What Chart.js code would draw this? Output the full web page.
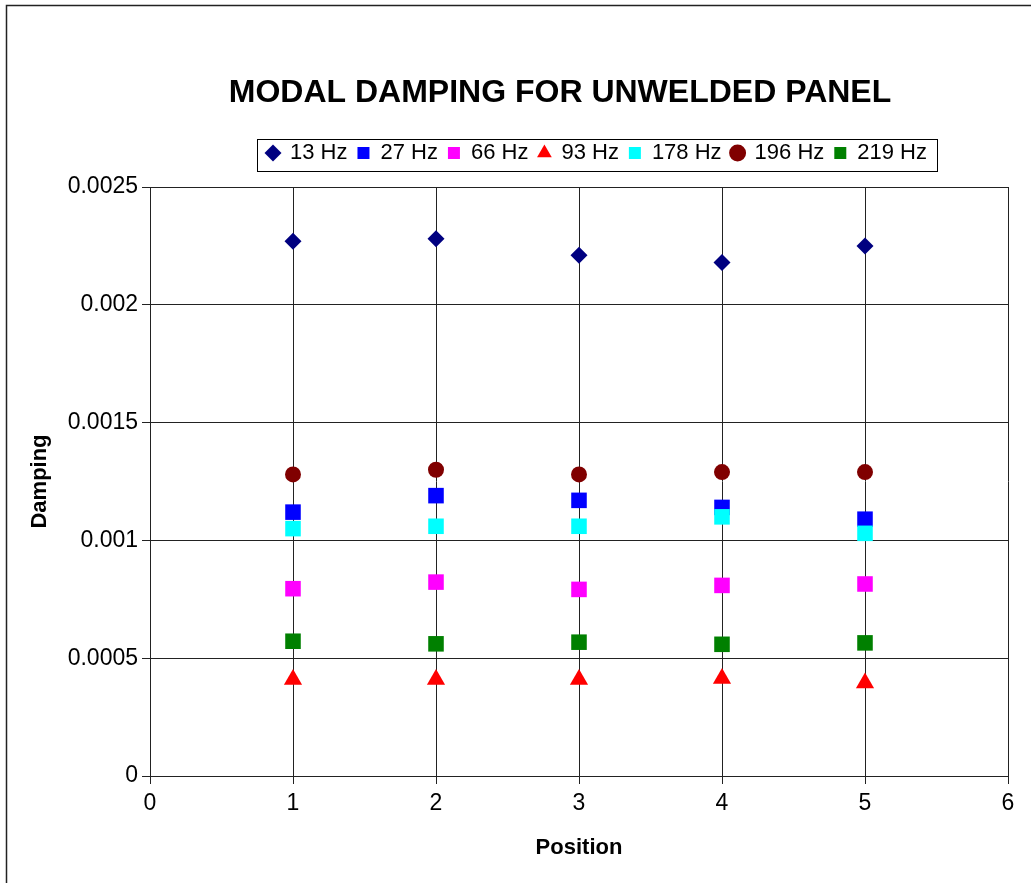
<!DOCTYPE html>
<html>
<head>
<meta charset="utf-8">
<script src="https://cdn.jsdelivr.net/npm/chart.js@4/dist/chart.umd.min.js"></script>
<style>
  html, body { margin: 0; padding: 0; background: #fff; }
  #wrap { width: 1031px; height: 883px; position: relative; }
</style>
</head>
<body>
<div id="wrap"><canvas id="c" width="1031" height="883"></canvas></div>
<script>
const positions = [1, 2, 3, 4, 5];
const seriesNames = ['13 Hz', '27 Hz', '66 Hz', '93 Hz', '178 Hz', '196 Hz', '219 Hz'];
const hz13  = [0.00227, 0.00228, 0.00221, 0.00218, 0.00225];
const hz27  = [0.00112, 0.00119, 0.00117, 0.00114, 0.00109];
const hz66  = [0.000795, 0.000823, 0.000792, 0.000809, 0.000815];
const hz93  = [0.00041, 0.00041, 0.00041, 0.000414, 0.000395];
const hz178 = [0.00105, 0.00106, 0.00106, 0.00110, 0.00103];
const hz196 = [0.00128, 0.00130, 0.00128, 0.00129, 0.00129];
const hz219 = [0.000572, 0.000561, 0.000568, 0.000559, 0.000565];
const xTickLabels = ['0', '1', '2', '3', '4', '5', '6'];
const yTickLabels = ['0', '0.0005', '0.001', '0.0015', '0.002', '0.0025'];

const FONT = "'Liberation Sans', Arial, sans-serif";
const seriesValues = [hz13, hz27, hz66, hz93, hz178, hz196, hz219];
const styles = [
  { color: '#000080', pointStyle: 'rectRot', radius: 8.5 },
  { color: '#0000FF', pointStyle: 'rect', radius: 11 },
  { color: '#FF00FF', pointStyle: 'rect', radius: 11 },
  { color: '#FF0000', pointStyle: 'triangle', radius: 10.5 },
  { color: '#00FFFF', pointStyle: 'rect', radius: 11 },
  { color: '#800000', pointStyle: 'circle', radius: 8 },
  { color: '#008000', pointStyle: 'rect', radius: 11 }
];

const datasets = seriesNames.map((name, i) => ({
  label: name,
  data: positions.map((p, j) => ({ x: p, y: seriesValues[i][j] })),
  backgroundColor: styles[i].color,
  borderColor: styles[i].color,
  borderWidth: 0,
  pointStyle: styles[i].pointStyle,
  pointRadius: styles[i].radius,
  pointHoverRadius: styles[i].radius,
  pointBorderWidth: 0,
  showLine: false,
  order: seriesNames.length - i
}));

const LEGEND_PAD = 10;

const framePlugin = {
  id: 'frame',
  beforeDraw(chart) {
    const ctx = chart.ctx;
    ctx.save();
    ctx.fillStyle = '#fff';
    ctx.fillRect(0, 0, chart.width, chart.height);
    ctx.restore();
  },
  afterLayout(chart) {
    const lg = chart.legend;
    if (lg) { lg.left += 18; lg.right += 18; }
    const tb = chart.titleBlock;
    if (tb) { tb.left += 51; tb.right += 51; }
  },
  afterDraw(chart) {
    const ctx = chart.ctx;
    ctx.save();
    // outer frame
    ctx.strokeStyle = '#222';
    ctx.lineWidth = 1.5;
    ctx.beginPath();
    ctx.moveTo(6.5, chart.height);
    ctx.lineTo(6.5, 5.5);
    ctx.lineTo(chart.width, 5.5);
    ctx.stroke();
    // legend box
    const lg = chart.legend;
    if (lg && lg.lineWidths) {
      const lw = lg.lineWidths[0];
      const x0 = (lg.left + LEGEND_PAD + lg.right - lw) / 2;
      const x1 = x0 + lw - LEGEND_PAD;
      ctx.strokeStyle = '#000';
      ctx.lineWidth = 1;
      ctx.strokeRect(Math.round(x0 - 10) + 0.5, Math.round(lg.top + 7) + 0.5,
                     Math.round(x1 - x0 + 20), 32);
    }
    ctx.restore();
  }
};

new Chart(document.getElementById('c'), {
  type: 'scatter',
  data: { datasets },
  plugins: [framePlugin],
  options: {
    responsive: false,
    animation: false,
    devicePixelRatio: 1,
    layout: { padding: { left: 10, right: 23, top: 0, bottom: 0 } },
    plugins: {
      tooltip: { enabled: false },
      title: {
        display: true,
        text: 'MODAL DAMPING FOR UNWELDED PANEL',
        color: '#000',
        font: { family: FONT, size: 32, weight: 'bold', lineHeight: 1.2 },
        padding: { top: 74, bottom: 19.6 }
      },
      legend: {
        display: true,
        position: 'top',
        fullSize: false,
        labels: {
          color: '#000',
          font: { family: FONT, size: 22 },
          usePointStyle: true,
          boxWidth: 12,
          boxHeight: 12,
          padding: LEGEND_PAD,
          sort: (a, b) => a.datasetIndex - b.datasetIndex
        }
      }
    },
    scales: {
      x: {
        type: 'linear',
        position: 'bottom',
        min: 0, max: 6,
        afterFit: s => { s.height = 107; },
        ticks: {
          stepSize: 1,
          color: '#000',
          padding: 6,
          font: { family: FONT, size: 23 },
          callback: (v) => xTickLabels[Math.round(v)] ?? ''
        },
        grid: { color: '#222', lineWidth: 1, drawTicks: true, tickLength: 8, tickColor: '#222' },
        border: { color: '#222', width: 1 },
        title: {
          display: true, text: 'Position', color: '#000',
          font: { family: FONT, size: 22, weight: 'bold', lineHeight: 1.2 },
          padding: { top: 0, bottom: 22 }
        }
      },
      pad: {
        type: 'linear',
        axis: 'x',
        position: 'top',
        display: true,
        afterFit: s => { s.height = 13; },
        ticks: { display: false },
        grid: { display: false, drawTicks: false },
        border: { display: false }
      },
      y: {
        type: 'linear',
        position: 'left',
        min: 0, max: 0.0025,
        afterFit: s => { s.width = 140; },
        ticks: {
          stepSize: 0.0005,
          color: '#000',
          padding: 4,
          font: { family: FONT, size: 23 },
          callback: (v) => yTickLabels[Math.round(v / 0.0005)] ?? ''
        },
        grid: { color: '#222', lineWidth: 1, drawTicks: true, tickLength: 8, tickColor: '#222' },
        border: { color: '#222', width: 1 },
        title: {
          display: true, text: 'Damping', color: '#000',
          font: { family: FONT, size: 22, weight: 'bold', lineHeight: 1.2 },
          padding: { top: 17, bottom: 0 }
        }
      }
    }
  }
});
</script>
</body>
</html>
